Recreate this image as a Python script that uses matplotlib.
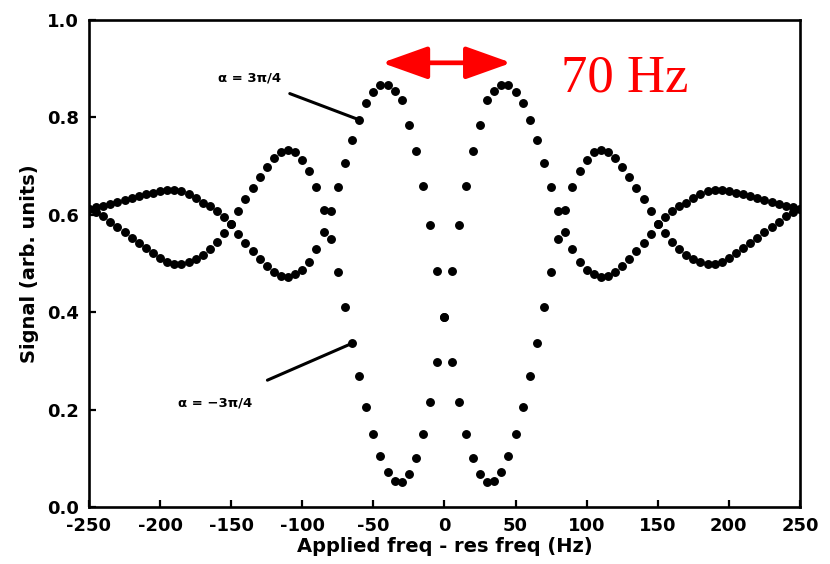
import matplotlib
matplotlib.use('Agg')
import matplotlib.pyplot as plt
from matplotlib.patches import FancyArrowPatch

# applied freq - res freq (Hz), 5 Hz steps
freq = list(range(-250, 255, 5))

# signal for alpha = 3pi/4
sig_plus = [0.612, 0.615, 0.619, 0.622, 0.626, 0.630, 0.634, 0.638, 0.642, 0.645, 0.648,
            0.651, 0.651, 0.648, 0.642, 0.634, 0.625, 0.617, 0.607, 0.595, 0.582,
            0.561, 0.543, 0.526, 0.509, 0.495, 0.483, 0.475, 0.473, 0.478, 0.487,
            0.504, 0.530, 0.565, 0.608, 0.658, 0.707, 0.754, 0.795, 0.829,
            0.853, 0.867, 0.867, 0.855, 0.835, 0.784, 0.730, 0.660, 0.578, 0.485,
            0.390, 0.297, 0.216, 0.150, 0.100, 0.067, 0.052, 0.053, 0.071, 0.105, 0.150,
            0.205, 0.268, 0.336, 0.410, 0.483, 0.551, 0.610, 0.657, 0.690, 0.713,
            0.728, 0.732, 0.728, 0.716, 0.699, 0.677, 0.654, 0.632, 0.608,
            0.581, 0.563, 0.545, 0.530, 0.518, 0.509, 0.503, 0.499, 0.499, 0.504,
            0.512, 0.521, 0.531, 0.542, 0.553, 0.564, 0.575, 0.586, 0.597, 0.605, 0.612]

# signal for alpha = -3pi/4
sig_minus = [0.612, 0.605, 0.597, 0.586, 0.575, 0.564, 0.553, 0.542, 0.531, 0.521, 0.512,
             0.504, 0.499, 0.499, 0.503, 0.509, 0.518, 0.530, 0.545, 0.563, 0.581,
             0.608, 0.632, 0.654, 0.677, 0.699, 0.716, 0.728, 0.732, 0.728, 0.713,
             0.690, 0.657, 0.610, 0.551, 0.483, 0.410, 0.336, 0.268, 0.205,
             0.150, 0.105, 0.071, 0.053, 0.052, 0.067, 0.100, 0.150, 0.216, 0.297,
             0.390, 0.485, 0.578, 0.660, 0.730, 0.784, 0.835, 0.855, 0.867, 0.867, 0.853,
             0.829, 0.795, 0.754, 0.707, 0.658, 0.608, 0.565, 0.530, 0.504, 0.487,
             0.478, 0.473, 0.475, 0.483, 0.495, 0.509, 0.526, 0.543, 0.561,
             0.582, 0.595, 0.607, 0.617, 0.625, 0.634, 0.642, 0.648, 0.651, 0.651,
             0.648, 0.645, 0.642, 0.638, 0.634, 0.630, 0.626, 0.622, 0.619, 0.615, 0.612]

x_ticks = [-250, -200, -150, -100, -50, 0, 50, 100, 150, 200, 250]
y_ticks = [0.0, 0.2, 0.4, 0.6, 0.8, 1.0]

plt.rcParams['font.family'] = ['DejaVu Sans']
plt.rcParams['axes.unicode_minus'] = False

fig = plt.figure(figsize=(8.3, 5.64), dpi=100)
ax = fig.add_axes([0.1072, 0.1011, 0.8566, 0.8635])

ax.plot(freq, sig_plus, 'o', color='black', ms=5.4, mec='black', ls='none', zorder=3)
ax.plot(freq, sig_minus, 'o', color='black', ms=5.4, mec='black', ls='none', zorder=3)

ax.set_xlim(-250, 250)
ax.set_ylim(0, 1.0)
ax.set_xticks(x_ticks)
ax.set_xticklabels([str(t) for t in x_ticks])
ax.set_yticks(y_ticks)
ax.set_yticklabels(['%.1f' % t for t in y_ticks])
ax.tick_params(direction='in', length=5, width=1.6, labelsize=13, pad=7)
for lab in ax.get_xticklabels() + ax.get_yticklabels():
    lab.set_fontweight('bold')
for sp in ax.spines.values():
    sp.set_linewidth(1.9)

ax.set_xlabel('Applied freq - res freq (Hz)', fontsize=14, fontweight='bold', labelpad=2)
ax.set_ylabel('Signal (arb. units)', fontsize=14, fontweight='bold', labelpad=6)

# labels for the two curves
ax.annotate('α = 3π/4', xy=(-60, 0.795), xytext=(-137, 0.88),
            fontsize=9.5, fontweight='bold', ha='center', va='center',
            arrowprops=dict(arrowstyle='-', color='black', lw=2.2,
                            shrinkA=12, shrinkB=0))
ax.annotate('α = −3π/4', xy=(-65, 0.336), xytext=(-161, 0.214),
            fontsize=9.5, fontweight='bold', ha='center', va='center',
            arrowprops=dict(arrowstyle='-', color='black', lw=2.2,
                            shrinkA=24, shrinkB=0))

# red double arrow between the two central peaks
arr = FancyArrowPatch((-44, 0.912), (47, 0.912),
                      arrowstyle='<|-|>,head_length=28,head_width=10',
                      mutation_scale=1, color='red', lw=3.4,
                      shrinkA=0, shrinkB=0, zorder=4)
ax.add_patch(arr)
ax.text(82, 0.853, '70 Hz', color='red', fontsize=38,
        family=['Liberation Serif', 'DejaVu Serif'], ha='left', va='baseline')

plt.savefig('out.png', dpi=100)
